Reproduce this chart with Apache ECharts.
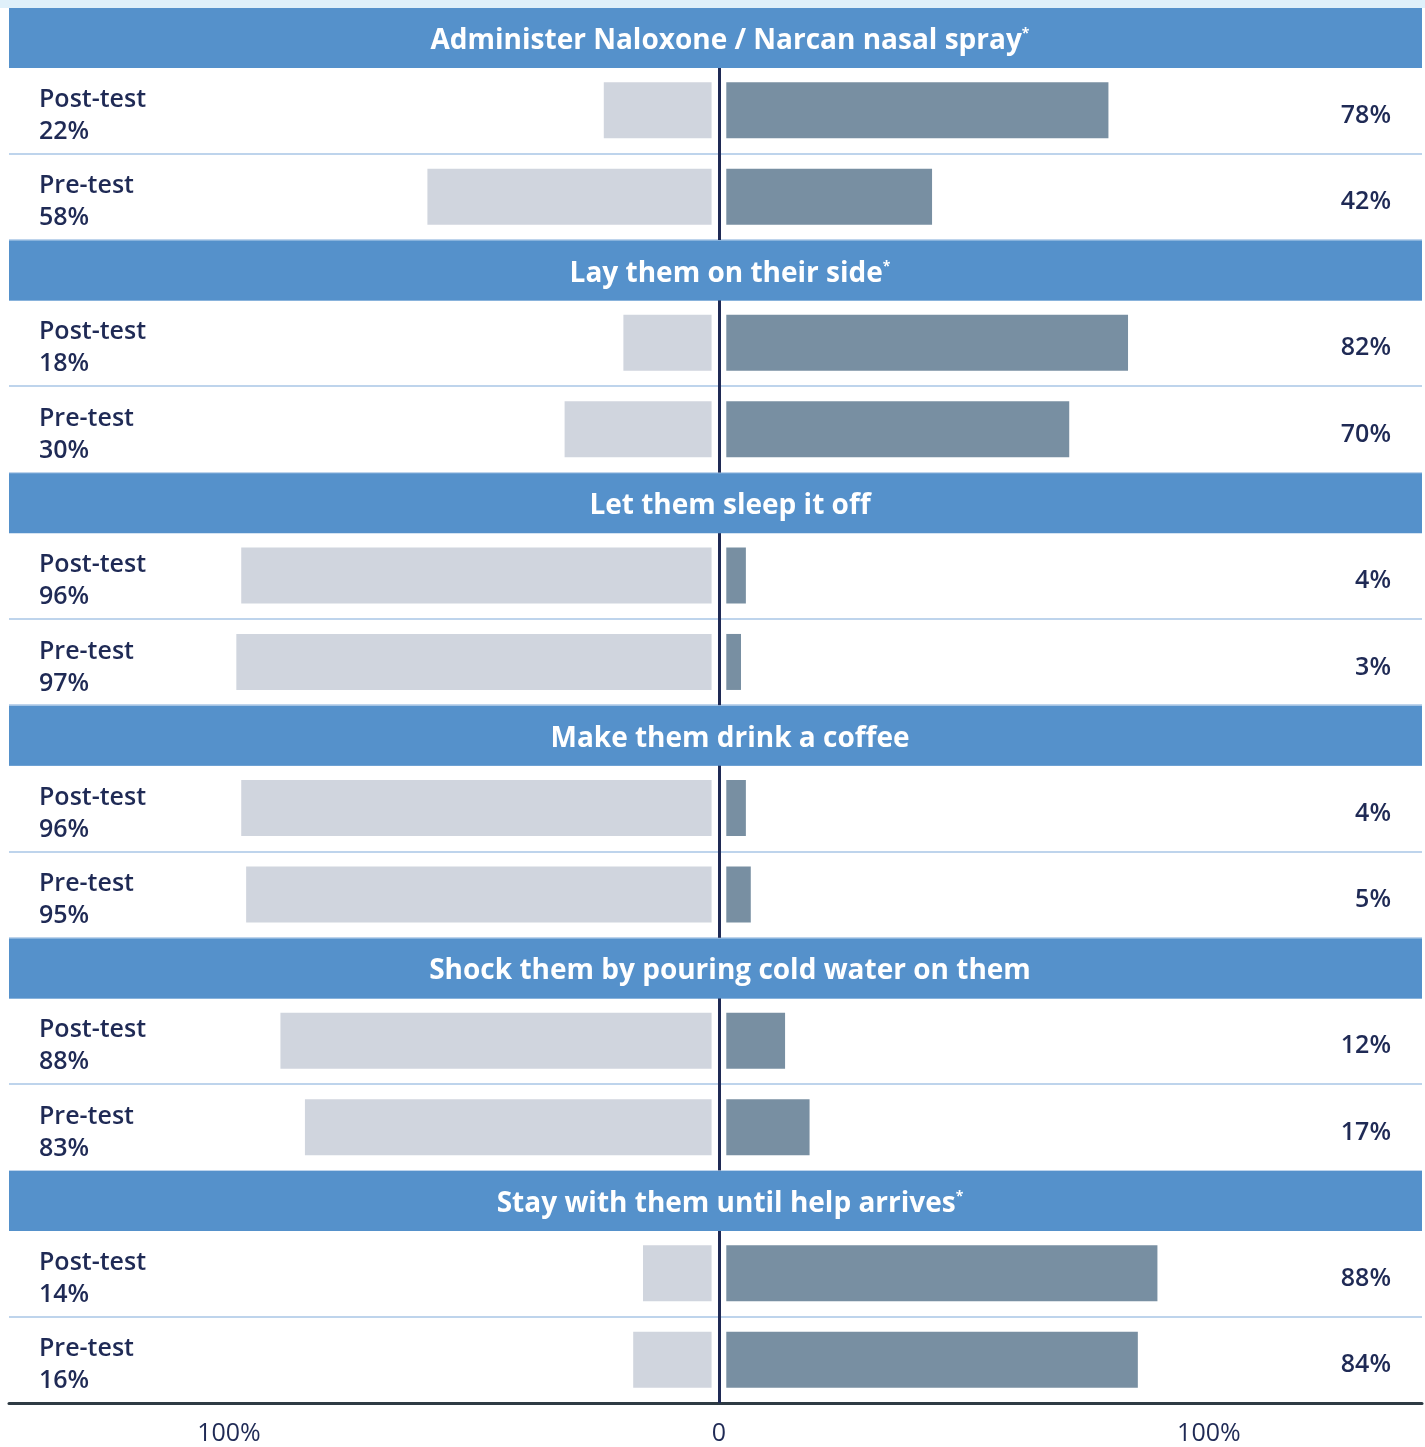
<!DOCTYPE html>
<html>
<head>
<meta charset="utf-8">
<script src="https://cdn.jsdelivr.net/npm/echarts@6/dist/echarts.min.js"></script>
<style>
  html, body { margin: 0; padding: 0; background: #ffffff; }
  #main { width: 1425px; height: 1447px; }
</style>
</head>
<body>
<div id="main"></div>
<script>
// question groups (header bands)
var groups = [
  'Administer Naloxone / Narcan nasal spray*',
  'Lay them on their side*',
  'Let them sleep it off',
  'Make them drink a coffee',
  'Shock them by pouring cold water on them',
  'Stay with them until help arrives*'
]
var rows = ['Post-test', 'Pre-test']

// left side (light bars) and right side (dark bars), in %
var postLeft = [22, 18, 96, 96, 88, 14]
var postRight = [78, 82, 4, 4, 12, 88]
var preLeft = [58, 30, 97, 95, 83, 16]
var preRight = [42, 70, 3, 5, 17, 84]

var axisTicks = [-100, 0, 100]

var myChart = echarts.init(document.getElementById('main'))

var FONT = 'Open Sans'
var NAVY = '#1f2a55'
var top0 = 67 // first row top
var step = 232.6 // one group (header + two rows)
var rowsH = 173
var headH = 60
var xMin = -144.9
var xMax = 143.5
var gap = 1.5 // small gap between the bars and the centre line

var labelRich = {
  sp: { fontSize: 1, lineHeight: 11 },
  t: { color: NAVY, fontFamily: FONT, fontSize: 25, fontWeight: 600, lineHeight: 32 }
}

var grid = []
var xAxis = []
var yAxis = []
var series = []
var graphic = []

// light strip on top
graphic.push({
  type: 'rect',
  shape: { x: 0, y: 0, width: 1425, height: 8 },
  style: { fill: '#dff0fa' },
  z: 100
})

groups.forEach(function (g, i) {
  var last = i === groups.length - 1
  grid.push({
    left: 9,
    right: 3,
    top: top0 + i * step,
    height: rowsH
  })
  xAxis.push({
    type: 'value',
    gridIndex: i,
    min: xMin,
    max: xMax,
    show: last,
    splitLine: { show: false },
    axisLine: { show: last, lineStyle: { color: '#2e3b44', width: 3 } },
    axisTick: { show: false },
    axisLabel: {
      show: last,
      customValues: axisTicks,
      margin: 18,
      color: NAVY,
      fontFamily: FONT,
      fontSize: 25,
      fontWeight: 500,
      formatter: function (v) {
        return v === 0 ? '0' : Math.abs(v) + '%'
      }
    }
  })
  // left axis: row names + left %
  yAxis.push({
    type: 'category',
    gridIndex: i,
    data: rows,
    inverse: true,
    axisLine: { show: false, onZero: false },
    axisTick: { show: false },
    splitLine: { show: true, lineStyle: { color: '#a9c6e6', width: 1.5 } },
    axisLabel: {
      align: 'left',
      margin: -30,
      rich: labelRich,
      formatter: function (v, idx) {
        var val = idx === 0 ? postLeft[i] : preLeft[i]
        return '{sp| }\n{t|' + v + '}\n{t|' + val + '%}'
      }
    }
  })
  // right axis: right %
  yAxis.push({
    type: 'category',
    gridIndex: i,
    position: 'right',
    data: rows,
    inverse: true,
    axisLine: { show: false, onZero: false },
    axisTick: { show: false },
    splitLine: { show: false },
    axisLabel: {
      align: 'right',
      margin: -31,
      rich: labelRich,
      formatter: function (v, idx) {
        return '{sp| }\n{t|' + (idx === 0 ? postRight[i] : preRight[i]) + '%}'
      }
    }
  })

  var stack = 'g' + i
  var yIdx = i * 2
  series.push({
    type: 'bar',
    xAxisIndex: i,
    yAxisIndex: yIdx,
    stack: stack,
    barWidth: 56,
    silent: true,
    itemStyle: { color: 'transparent' },
    data: [-gap, -gap]
  })
  series.push({
    type: 'bar',
    xAxisIndex: i,
    yAxisIndex: yIdx,
    stack: stack,
    barWidth: 56,
    silent: true,
    itemStyle: { color: 'transparent' },
    data: [gap, gap],
    // centre line
    markLine: {
      silent: true,
      symbol: 'none',
      label: { show: false },
      lineStyle: { color: NAVY, width: 3, type: 'solid' },
      data: [{ xAxis: 0 }]
    }
  })
  series.push({
    name: 'left',
    type: 'bar',
    xAxisIndex: i,
    yAxisIndex: yIdx,
    stack: stack,
    barWidth: 56,
    itemStyle: { color: '#d0d5de' },
    data: [-postLeft[i], -preLeft[i]]
  })
  series.push({
    name: 'right',
    type: 'bar',
    xAxisIndex: i,
    yAxisIndex: yIdx,
    stack: stack,
    barWidth: 56,
    itemStyle: { color: '#788fa2' },
    data: [postRight[i], preRight[i]]
  })

  // header band
  var hy = 8 + i * step
  graphic.push({
    type: 'rect',
    shape: { x: 9, y: hy, width: 1413, height: headH },
    style: { fill: '#5591cb' },
    z: 100
  })
  var star = g.slice(-1) === '*'
  var txt = star ? '{a|' + g.slice(0, -1) + '}{s|*}' : '{a|' + g + '}'
  graphic.push({
    type: 'text',
    x: 730,
    y: hy + 33,
    z: 101,
    style: {
      text: txt,
      align: 'center',
      verticalAlign: 'middle',
      rich: {
        a: { fill: '#ffffff', font: '700 28px "' + FONT + '"' },
        s: { fill: '#ffffff', font: '700 14px "' + FONT + '"', verticalAlign: 'top', padding: [0, 0, 12, 0] }
      }
    }
  })
})

var option = {
  animation: false,
  grid: grid,
  xAxis: xAxis,
  yAxis: yAxis,
  series: series,
  graphic: graphic
}

myChart.setOption(option)
</script>
</body>
</html>
